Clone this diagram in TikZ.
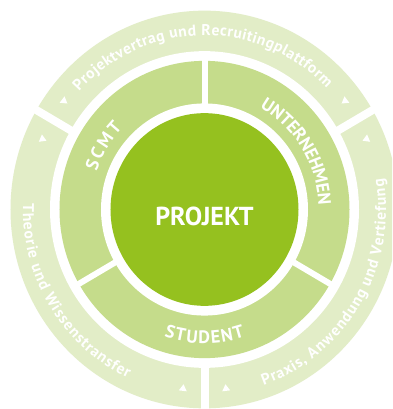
\documentclass[tikz,border=0pt]{standalone}
\usepackage{fontspec}
\setmainfont{PT Sans}
\usetikzlibrary{decorations.text}
\definecolor{ringA}{HTML}{E2EDC7}
\definecolor{ringB}{HTML}{C5DC8B}
\definecolor{core}{HTML}{95C11F}
\newcommand{\outerfmt}{\fontsize{15.6}{18}\selectfont\bfseries}
\newcommand{\midfmt}{\fontsize{18}{21}\selectfont\bfseries}
\tikzset{
  ringtext/.style 2 args={decorate, decoration={text effects along path, text={#2},
     text effects/.cd, text along path, fit text to path,
     characters={text=white, font=#1, inner sep=0pt}}},
  arrowtri/.style={fill=white}
}
\begin{document}
\begin{tikzpicture}[x=1pt,y=1pt]
\useasboundingbox (-204.5pt,-199.5pt) rectangle (187.5pt,209.5pt);
\fill[white] (-204.5pt,-199.5pt) rectangle (187.5pt,209.5pt);
\clip (-204.5pt,-199.5pt) rectangle (187.5pt,209.5pt);
% rings
\fill[ringA] (0,0) ellipse[x radius=194pt, y radius=198.85pt];
\fill[white] (0,0) ellipse[x radius=154.5pt, y radius=158.36pt];
\fill[ringB] (0,0) ellipse[x radius=145pt, y radius=148.63pt];
\fill[white] (0,0) ellipse[x radius=103.5pt, y radius=106.09pt];
\fill[core] (0,0) ellipse[x radius=94pt, y radius=96.35pt];
% dividers
\foreach \a in {30,150,270}
  \draw[white, line width=8pt] (\a:150pt and 153.75pt) -- (\a:205pt and 210pt);
\foreach \a in {90,210,330}
  \draw[white, line width=6pt] (\a:98pt and 100.5pt) -- (\a:150pt and 153.75pt);
% small triangles
\foreach \a in {23,37,143,157,263,277}
  \fill[arrowtri, shift={(\a:175pt and 179.4pt)}, rotate=\a] (-3.3pt,0pt) -- (3.3pt,4pt) -- (3.3pt,-4pt) -- cycle;
% centre label
\node[font=\fontsize{26}{30}\selectfont\bfseries, text=white, anchor=base] (projekt) at (0pt,-16pt) {PROJEKT};
% middle labels
\path[ringtext={\midfmt}{SCMT}] (161:114pt and 116.85pt) arc[start angle=161, end angle=136, x radius=114pt, y radius=116.85pt];
\path[ringtext={\midfmt}{UNTERNEHMEN}] (61:114pt and 116.85pt) arc[start angle=61, end angle=2, x radius=114pt, y radius=116.85pt];
\path[ringtext={\midfmt}{STUDENT}] (252:130.5pt and 133.75pt) arc[start angle=252, end angle=288, x radius=130.5pt, y radius=133.75pt];
% outer labels
\path[ringtext={\outerfmt}{Projektvertrag und Recruitingplattform}] (137.5:170pt and 174.25pt) arc[start angle=137.5, end angle=44, x radius=170pt, y radius=174.25pt];
\path[ringtext={\outerfmt}{Theorie und Wissenstransfer}] (178:181.5pt and 186pt) arc[start angle=178, end angle=245, x radius=181.5pt, y radius=186pt];
\path[ringtext={\outerfmt}{Praxis, Anwendung und Vertiefung}] (289:181.5pt and 186pt) arc[start angle=289, end angle=369.5, x radius=181.5pt, y radius=186pt];
\end{tikzpicture}
\end{document}
